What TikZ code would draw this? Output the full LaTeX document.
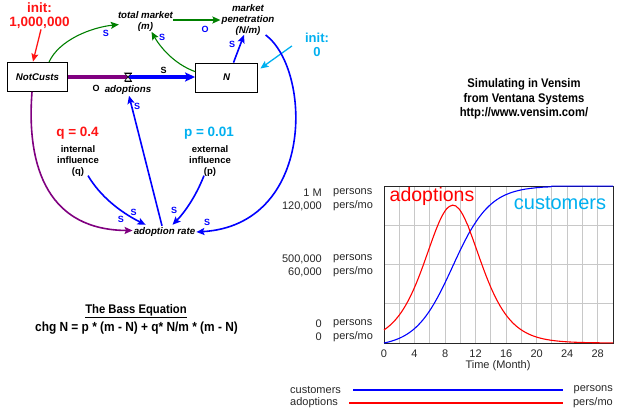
\documentclass[tikz,border=0pt]{standalone}
\usepackage{fontspec}
\setmainfont{Liberation Sans}
\newfontfamily\narrowfont[FakeStretch=0.9]{Liberation Sans}
\usetikzlibrary{arrows.meta,calc}
\definecolor{vgreen}{RGB}{0,128,0}
\definecolor{vblue}{RGB}{0,0,255}
\definecolor{vpurple}{RGB}{128,0,128}
\definecolor{vred}{RGB}{255,20,20}
\definecolor{vsky}{RGB}{0,176,240}
\definecolor{vgrid}{RGB}{200,200,200}
\definecolor{vtext}{RGB}{40,40,40}
\tikzset{
  stockbox/.style={draw=black, line width=0.8pt, minimum width=60pt, minimum height=29pt, inner sep=0pt,
    font=\fontsize{9.7}{11}\selectfont\bfseries\itshape},
  varlbl/.style={inner sep=0pt, align=center, font=\fontsize{9.7}{11.2}\selectfont\bfseries\itshape},
  constlbl/.style={inner sep=0pt, align=center, font=\fontsize{9.5}{11}\selectfont\bfseries},
  bigval/.style={inner sep=0pt, align=center, font=\fontsize{13.5}{14}\selectfont\bfseries},
  pol/.style={inner sep=0pt, font=\fontsize{9}{10}\selectfont\bfseries, text=vblue},
  polk/.style={inner sep=0pt, font=\fontsize{9}{10}\selectfont\bfseries, text=black},
  tip/.style={-{Stealth[length=8pt,width=7pt,inset=1.5pt]}},
  ctext/.style={inner sep=0pt, font=\fontsize{11}{12}\selectfont, text=vtext},
  narrowtxt/.style={inner sep=0pt, align=center, font=\narrowfont\fontsize{12.5}{15}\selectfont\bfseries},
}
\begin{document}
\begin{tikzpicture}[x=1pt,y=-1pt]
\useasboundingbox (0,0) rectangle (621,413);
\fill[white] (0,0) rectangle (621,413);

% ---------- stock-and-flow diagram ----------
\node[stockbox] (notcusts) at (37.5,77) {NotCusts};
\node[stockbox, minimum width=62pt] (N) at (226.5,77.5) {N};
\node[inner sep=0pt, minimum size=8pt] (valve) at (128,77) {};
\node[varlbl] (adoptlbl) at (128,89.5) {adoptions};
\node[varlbl] (totmkt) at (145.5,21.5) {total market\\(m)};
\node[varlbl] (mktpen) at (248,20) {market\\penetration\\(N/m)};
\node[varlbl] (adrate) at (164.5,231.5) {adoption rate};
\node[bigval, text=vred, align=center] (init1) at (39.5,15.5) {init:\\[-0.5pt]1,000,000};
\node[bigval, text=vsky, align=center, font=\fontsize{13}{14}\selectfont\bfseries] (init0) at (317,45) {init:\\0};
\node[bigval, text=vred] (qval) at (77.5,133) {q = 0.4};
\node[constlbl] (qtxt) at (78,161) {internal\\influence\\(q)};
\node[bigval, text=vsky] (pval) at (209,133) {p = 0.01};
\node[constlbl] (ptxt) at (210,161) {external\\influence\\(p)};

% flow pipe
\draw[vpurple, line width=3.4pt] (notcusts.east |- valve) -- (valve.center);
\draw[vblue, line width=3.4pt, -{Stealth[length=10pt,width=9pt,inset=2pt]}] (valve.center) -- (N.west |- valve);
\draw[fill=white, line width=0.6pt] ($(valve)+(-3.5,-4)$) -- ($(valve)+(3.5,-4)$) -- ($(valve)+(-3.5,4)$) -- ($(valve)+(3.5,4)$) -- cycle;
\draw[line width=0.6pt] ($(valve)+(-3.5,-4)$) -- ($(valve)+(3.5,-4)$) ($(valve)+(-3.5,4)$) -- ($(valve)+(3.5,4)$);

% init arrows
\draw[vred, line width=1.3pt, tip] ($(init1.south)+(1.5,1)$) -- ($(notcusts.north)+(-4.5,-0.5)$);
\draw[vsky, line width=1.3pt, tip] ($(init0.south west)+(-13,-11)$) -- ($(N.east)+(2.5,-9)$);

% green links
\draw[vgreen, line width=1.1pt, tip] ($(notcusts.north)+(11.5,0)$) .. controls +(10,-22) and +(-28,3) .. ($(totmkt.west)+(1,3)$);
\draw[vgreen, line width=1.1pt, tip] ($(N.north west)+(0,9)$) .. controls +(-22,-8) and +(8,14) .. ($(totmkt.south)+(6,0)$);
\draw[vgreen, line width=1.4pt, tip] ($(totmkt.east)+(0,-1.5)$) -- ($(mktpen.west)+(-1,0)$);

% blue links
\draw[vblue, line width=1.6pt, tip] ($(N.north)+(7,0)$) -- ($(mktpen.south)+(-4,-1)$);
\draw[vblue, line width=1.6pt, tip] ($(mktpen.south east)+(-9,-1)$) .. controls (312,70) and (315,225) .. ($(adrate.east)+(1,0.5)$);
\draw[vpurple, line width=1.6pt, tip] ($(notcusts.south)+(-5.5,0)$) .. controls (26,170) and (50,230) .. ($(adrate.west)+(-1,-1)$);
\draw[vblue, line width=1.6pt, tip] ($(adrate.north)+(-2.5,-1)$) -- ($(adoptlbl.south)+(1,1.5)$);
\draw[vblue, line width=1.6pt, tip] ($(qtxt.south)+(10,-1)$) .. controls (100,196) and (120,212) .. ($(adrate.north west)+(12,-2)$);
\draw[vblue, line width=1.6pt, tip] ($(ptxt.south)+(-6,-1)$) .. controls (196,196) and (185,212) .. ($(adrate.north)+(8,-2)$);

% polarity labels
\node[pol] at (106,33) {S};
\node[pol] at (162,37) {S};
\node[pol] at (205,29) {O};
\node[pol] at (232,44) {S};
\node[polk] at (163.5,70) {S};
\node[polk] at (96,88) {O};
\node[pol] at (137,106) {S};
\node[pol] at (121,219) {S};
\node[pol] at (133.5,212) {S};
\node[pol] at (174,210) {S};
\node[pol] at (207,222) {S};

% Bass equation
\node[narrowtxt] (basstitle) at (136,311) {\underline{The Bass Equation}};
\node[narrowtxt, font=\narrowfont\fontsize{13.2}{15}\selectfont\bfseries] (basseq) at (136.5,328) {chg N = p * (m - N) + q* N/m * (m - N)};

% Vensim credit
\node[narrowtxt, font=\narrowfont\fontsize{12.5}{14.5}\selectfont\bfseries] (credit) at (524,99) {Simulating in Vensim\\from Ventana Systems\\http://www.vensim.com/};

% ---------- chart ----------
\foreach \k in {1,...,14} {
  \draw[vgrid, line width=0.9pt] ({384+\k*229/15},186) -- ({384+\k*229/15},343);
}
\foreach \k in {1,2,3} {
  \draw[vgrid, line width=0.9pt] (384,{186+\k*39.25}) -- (613,{186+\k*39.25});
}
\draw[black!85, line width=0.9pt] (384,186) rectangle (613,343);

\draw[vblue, line width=1.1pt] plot[domain=0:30, samples=151, smooth]
  ({384+7.6333*\x},{343-157*(1-exp(-0.41*\x))/(1+40*exp(-0.41*\x))});
\draw[red, line width=1.1pt] plot[domain=0:30, samples=151, smooth]
  ({384+7.6333*\x},{343-157*exp(4.9422-0.41*\x-2*ln(1+40*exp(-0.41*\x)))});

\node[inner sep=0pt, font=\fontsize{19.5}{20}\selectfont, text=red] (adtxt) at (432,196) {adoptions};
\node[inner sep=0pt, font=\fontsize{20}{20}\selectfont, text=vsky] (custxt) at (560,203) {customers};

% y labels
\foreach \y/\num/\unit in {193/{1 M}/{persons}, 206/{120,000}/{pers/mo}, 259/{500,000}/{persons}, 272/{60,000}/{pers/mo}, 324/{0}/{persons}, 337/{0}/{pers/mo}} {
  \node[ctext, anchor=east] at (322,\y) {\num};
  \node[ctext, anchor=west] at (333,\y) {\unit};
}
% x labels
\foreach \t in {0,4,...,28} {
  \node[ctext] at ({384+7.6333*\t},353.5) {\t};
}
\node[ctext] (timelbl) at (498,366) {Time (Month)};

% legend
\node[ctext, anchor=west] (lg1) at (290,390) {customers};
\node[ctext, anchor=west] (lg2) at (290,403) {adoptions};
\node[ctext, anchor=east] (lu1) at (613,390) {persons};
\node[ctext, anchor=east] (lu2) at (613,403) {pers/mo};
\draw[vblue, line width=1.1pt] (353,390) -- (563,390);
\draw[red, line width=1.1pt] (349,403) -- (563,403);
\end{tikzpicture}
\end{document}
